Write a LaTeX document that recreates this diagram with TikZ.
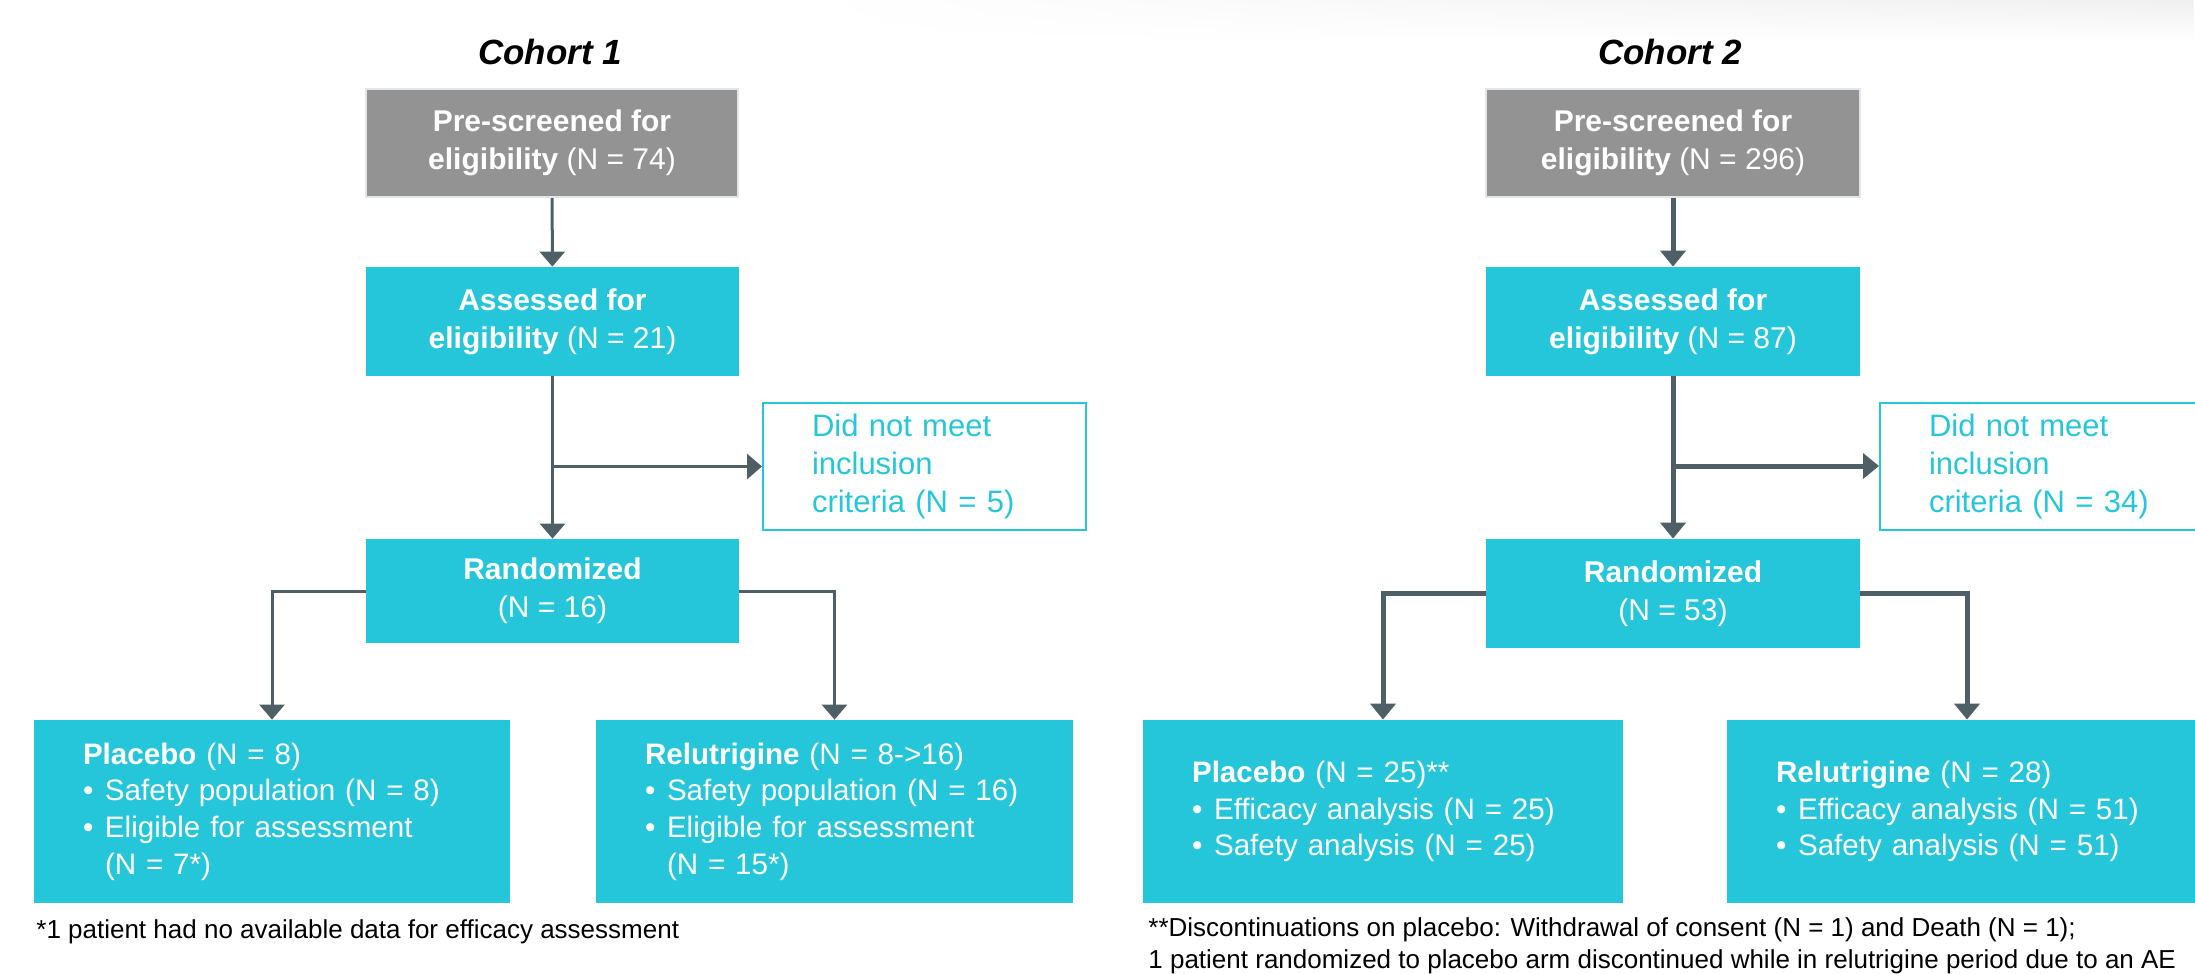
\documentclass[tikz,border=0pt]{standalone}
\usepackage{fontspec}
\setmainfont{Liberation Sans}
\usetikzlibrary{arrows.meta,calc,fadings}
\definecolor{cy}{HTML}{26C6DA}
\definecolor{gb}{HTML}{939393}
\definecolor{gbd}{HTML}{E2E6EA}
\definecolor{ar}{HTML}{4E5F66}
\newcommand{\bul}{\makebox[11pt][l]{•}}
\tikzfading[name=fadeleft, left color=transparent!100, right color=transparent!0]
\begin{document}
\begin{tikzpicture}[x=0.5pt,y=-0.5pt,
  box/.style={fill=cy,text=white,align=center,inner sep=0pt,
    font=\fontsize{15}{19}\selectfont},
  graybox/.style={box,fill=gb,draw=gbd,line width=1.2pt},
  exbox/.style={draw=cy,line width=1pt,text=cy,align=left,inner xsep=24.5pt,inner ysep=0pt,
    minimum height=63.5pt,font=\fontsize{15.5}{19}\selectfont},
  armbox/.style={fill=cy,text=white,align=left,inner xsep=24.5pt,inner ysep=0pt,
    minimum height=91.5pt,font=\fontsize{14.8}{18.3}\selectfont},
  title/.style={font=\fontsize{17.5}{20}\selectfont\bfseries\itshape},
  note/.style={align=left,anchor=west,inner sep=0pt,font=\fontsize{13}{16}\selectfont},
  lineA/.style={draw=ar,line width=1.5pt,-{Triangle[width=12.5pt,length=7.5pt]}},
  lineB/.style={draw=ar,line width=2.5pt,-{Triangle[width=12.5pt,length=8pt]}}
]
\useasboundingbox (0,0) rectangle (2195,974);
\shade[top color=black!6,bottom color=white,path fading=fadeleft] (800,0) rectangle (2195,42);

% ---------- Cohort 1 ----------
\node[title] (t1) at (550,52) {Cohort 1};
\node[graybox,minimum width=186pt,minimum height=54pt] (pre1) at (552,143)
  {\textbf{Pre-screened for}\\\textbf{eligibility} (N = 74)};
\node[box,minimum width=186.5pt,minimum height=54.5pt] (as1) at (552.5,321.5)
  {\textbf{Assessed for}\\\textbf{eligibility} (N = 21)};
\node[exbox,minimum width=161.5pt,text width=112.5pt] (ex1) at (924.5,466.5)
  {Did not meet\\inclusion\\criteria (N = 5)};
\node[box,minimum width=186.5pt,minimum height=52pt] (rand1) at (552.5,591)
  {\textbf{Randomized}\\(N = 16)};
\node[armbox,minimum width=238pt,text width=189pt] (pl1) at (272,811.5)
  {\textbf{Placebo} (N = 8)\\\bul Safety population (N = 8)\\\bul Eligible for assessment\\\hphantom{\bul}(N = 7*)};
\node[armbox,minimum width=238.5pt,text width=189.5pt] (re1) at (834.5,811.5)
  {\textbf{Relutrigine} (N = 8->16)\\\bul Safety population (N = 16)\\\bul Eligible for assessment\\\hphantom{\bul}(N = 15*)};
\node[note] (fn1) at (36,932) {*1 patient had no available data for efficacy assessment};

\coordinate (j1) at (as1.south |- ex1.west);
\draw[lineA] (pre1) -- (as1);
\draw[lineA] (as1) -- (rand1);
\draw[lineA] (j1) -- (ex1.west);
\draw[lineA] (rand1.west) -| (pl1.north);
\draw[lineA] (rand1.east) -| (re1.north);

% ---------- Cohort 2 ----------
\node[title] (t2) at (1670,52) {Cohort 2};
\node[graybox,minimum width=187pt,minimum height=54pt] (pre2) at (1673,143)
  {\textbf{Pre-screened for}\\\textbf{eligibility} (N = 296)};
\node[box,minimum width=187pt,minimum height=54.5pt] (as2) at (1673,321.5)
  {\textbf{Assessed for}\\\textbf{eligibility} (N = 87)};
\node[exbox,minimum width=167.5pt,text width=118.5pt] (ex2) at (2047.5,466)
  {Did not meet\\inclusion\\criteria (N = 34)};
\node[box,minimum width=187pt,minimum height=54.5pt] (rand2) at (1673,593.5)
  {\textbf{Randomized}\\(N = 53)};
\node[armbox,minimum width=240pt,text width=191pt] (pl2) at (1383,811.5)
  {\textbf{Placebo} (N = 25)**\\\bul Efficacy analysis (N = 25)\\\bul Safety analysis (N = 25)};
\node[armbox,minimum width=240pt,text width=191pt] (re2) at (1967,811.5)
  {\textbf{Relutrigine} (N = 28)\\\bul Efficacy analysis (N = 51)\\\bul Safety analysis (N = 51)};
\node[note] (fn2) at (1148,946) {**Discontinuations on placebo: Withdrawal of consent (N = 1) and Death (N = 1);\\1 patient randomized to placebo arm discontinued while in relutrigine period due to an AE};

\coordinate (j2) at (as2.south |- ex2.west);
\draw[lineB] (pre2) -- (as2);
\draw[lineB] (as2) -- (rand2);
\draw[lineB] (j2) -- (ex2.west);
\draw[lineB] (rand2.west) -| (pl2.north);
\draw[lineB] (rand2.east) -| (re2.north);
\end{tikzpicture}
\end{document}
